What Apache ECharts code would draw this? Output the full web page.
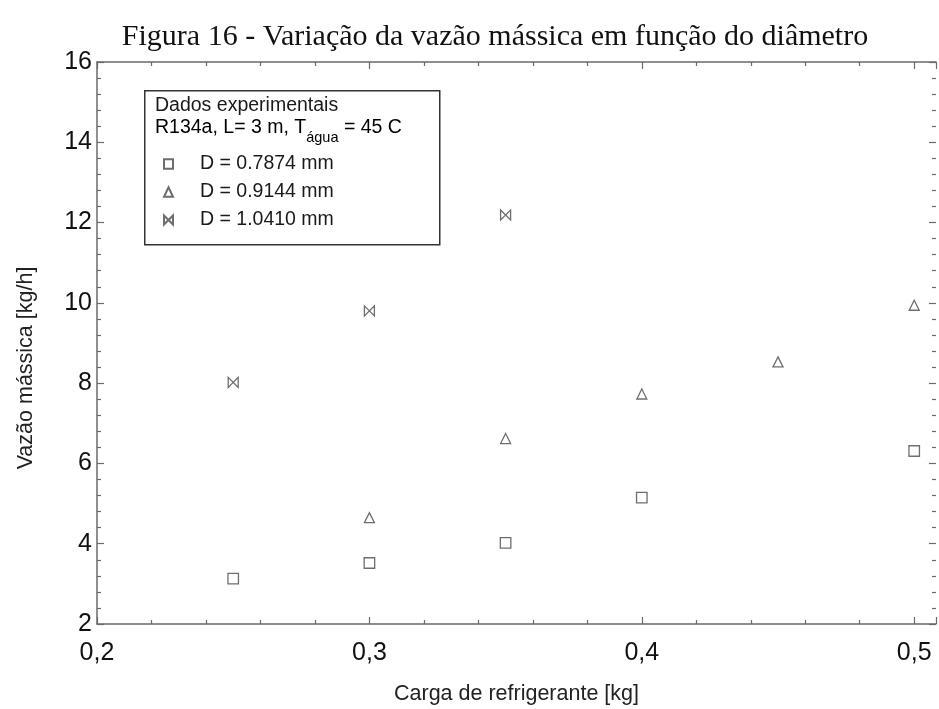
<!DOCTYPE html>
<html>
<head>
<meta charset="utf-8">
<script src="https://cdn.jsdelivr.net/npm/echarts@6/dist/echarts.min.js"></script>
<style>
html,body{margin:0;padding:0;background:#fff;}
#chart{width:939px;height:709px;}
</style>
</head>
<body>
<div id="chart"></div>
<script>
// Mass flow rate vs refrigerant charge, one series per capillary diameter
const seriesNames = ['D = 0.7874 mm', 'D = 0.9144 mm', 'D = 1.0410 mm'];
const chargeSmall = [0.25, 0.30, 0.35, 0.40, 0.50];
const flowSmall = [3.13, 3.52, 4.02, 5.15, 6.31];
const chargeMid = [0.30, 0.35, 0.40, 0.45, 0.50];
const flowMid = [4.65, 6.62, 7.73, 8.53, 9.94];
const chargeLarge = [0.25, 0.30, 0.35];
const flowLarge = [8.02, 9.80, 12.19];
const yTicks = [2, 4, 6, 8, 10, 12, 14, 16];
const xTicks = [0.2, 0.3, 0.4, 0.5];

const bowtie = 'path://M0,0 L10,10 L10,0 L0,10 Z';
const ink = '#4a4a4a';
const axisColor = '#6a6a6a';
const sans = '"Liberation Sans", Arial, sans-serif';

function pairs(xs, ys) { return xs.map((x, i) => [x, ys[i]]); }

const chart = echarts.init(document.getElementById('chart'), null, { renderer: 'canvas' });

const baseX = {
  type: 'value', min: 0.2, max: 0.508, interval: 0.1,
  axisLine: { show: true, onZero: false, lineStyle: { color: axisColor, width: 1.5 } },
  splitLine: { show: false },
  minorTick: { show: true, splitNumber: 5, length: 4, lineStyle: { color: axisColor, width: 1.2 } },
  axisTick: { show: true, inside: true, length: 7, lineStyle: { color: axisColor, width: 1.2 } }
};
const baseY = {
  type: 'value', min: 2, max: 16, interval: 2,
  axisLine: { show: true, onZero: false, lineStyle: { color: axisColor, width: 1.5 } },
  splitLine: { show: false },
  minorTick: { show: true, splitNumber: 5, length: 4, lineStyle: { color: axisColor, width: 1.2 } },
  axisTick: { show: true, inside: true, length: 7, lineStyle: { color: axisColor, width: 1.2 } }
};

function markerSeries(name, symbol, size, data) {
  return {
    name: name, type: 'scatter', symbol: symbol, symbolSize: size,
    data: data,
    itemStyle: { color: '#ffffff', borderColor: ink, borderWidth: 1.3 },
    emphasis: { disabled: true }
  };
}

chart.setOption({
  animation: false,
  backgroundColor: '#ffffff',
  title: {
    text: 'Figura 16 - Variação da vazão mássica em função do diâmetro',
    left: 490, top: 17, textAlign: 'center',
    textStyle: { fontFamily: '"Liberation Serif", "Times New Roman", serif', fontSize: 30, fontWeight: 'normal', color: '#111' }
  },
  grid: { left: 97, top: 62, right: 3, bottom: 85, containLabel: false, outerBoundsMode: 'none' },
  xAxis: [
    Object.assign({}, baseX, {
      position: 'bottom',
      name: 'Carga de refrigerante [kg]', nameLocation: 'middle', nameGap: 59,
      nameTextStyle: { fontFamily: sans, fontSize: 21.5, color: '#222' },
      axisLabel: {
        margin: 17, fontFamily: sans, fontSize: 25, color: '#111', showMaxLabel: false,
        formatter: v => xTicks.some(t => Math.abs(t - v) < 1e-6) ? v.toFixed(1).replace('.', ',') : ''
      }
    }),
    Object.assign({}, baseX, { position: 'top', axisLabel: { show: false } })
  ],
  yAxis: [
    Object.assign({}, baseY, {
      position: 'left',
      name: 'Vazão mássica [kg/h]', nameLocation: 'middle', nameGap: 60,
      nameTextStyle: { fontFamily: sans, fontSize: 21.5, color: '#222', padding: [0, 50, 0, 0] },
      axisLabel: {
        margin: 5, fontFamily: sans, fontSize: 25, color: '#111',
        formatter: v => yTicks.includes(v) ? String(v) : ''
      }
    }),
    Object.assign({}, baseY, {
      position: 'right', axisLabel: { show: false },
      axisLine: { show: false, onZero: false }
    })
  ],
  legend: {
    orient: 'vertical', left: 158, top: 149, itemGap: 8,
    itemWidth: 9, itemHeight: 9.5,
    data: seriesNames,
    selectedMode: false,
    formatter: n => '{t|' + n + '}',
    textStyle: {
      rich: { t: { fontFamily: sans, fontSize: 19.5, color: '#1a1a1a', padding: [0, 0, 0, 22] } }
    }
  },
  graphic: [
    {
      type: 'rect', left: 144, top: 90, z: 0,
      shape: { width: 295, height: 154 },
      style: { fill: '#ffffff', stroke: '#333', lineWidth: 1.5 }
    },
    {
      type: 'text', left: 155, top: 96, z: 5,
      style: { text: 'Dados experimentais', font: '19.5px ' + sans, fill: '#1a1a1a' }
    },
    {
      type: 'text', left: 155, top: 118, z: 5,
      style: {
        text: '{n|R134a, L= 3 m, T}{s|água}{n| = 45 C}',
        rich: {
          n: { fontFamily: sans, fontSize: 19.5, color: '#1a1a1a', verticalAlign: 'top', height: 23 },
          s: { fontFamily: sans, fontSize: 14.5, color: '#1a1a1a', padding: [10, 0, 0, 0], height: 23, verticalAlign: 'top' }
        }
      }
    }
  ],
  series: [
    markerSeries(seriesNames[0], 'rect', 10.5, pairs(chargeSmall, flowSmall)),
    markerSeries(seriesNames[1], 'triangle', 10, pairs(chargeMid, flowMid)),
    markerSeries(seriesNames[2], bowtie, [10, 10], pairs(chargeLarge, flowLarge))
  ]
});
</script>
</body>
</html>
